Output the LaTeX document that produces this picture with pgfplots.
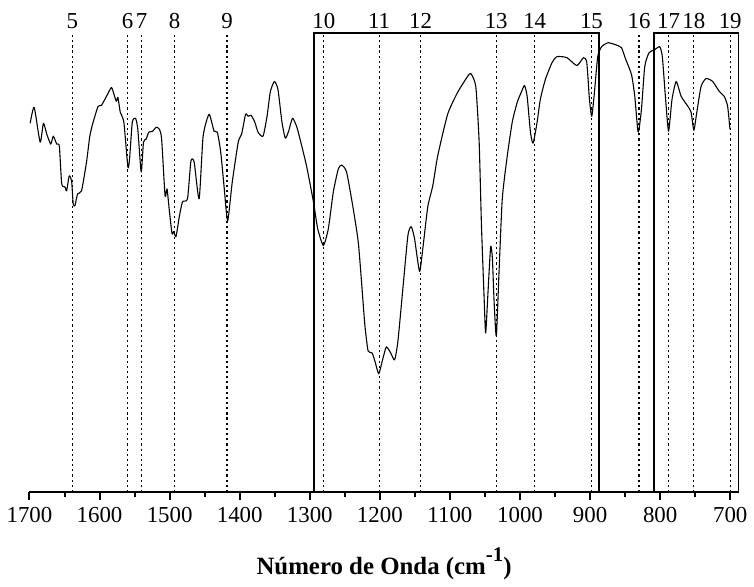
\documentclass[border=0pt]{standalone}
\usepackage{fontspec}
\setmainfont{Liberation Serif}
\usepackage{pgfplots}
\pgfplotsset{compat=1.18}

\pgfplotstableread{
w y
1699 371
1693.3 387
1684.8 352
1680.1 371
1675.3 360
1669.6 350
1666 358
1661.1 350
1657.4 348
1654 310
1649.4 307
1647 303
1643.3 318
1639.9 313
1637.6 290
1635.2 288
1631.3 300
1625.7 303
1618.6 332
1613.9 358
1609.2 372
1602.1 388
1597.3 389
1590.2 398
1583.1 407
1579.4 400
1576 393
1573.8 397
1570.4 382
1565.3 372
1559.6 327
1557.2 335
1553.3 372
1548.7 376
1545.4 365
1540.6 322
1537.3 352
1533.5 355
1529.8 362
1524.1 363
1519.3 367
1514.6 365
1511.4 355
1506.5 298
1503.7 305
1500.4 283
1496.6 260
1494.3 262
1490.9 257
1486.2 277
1481.6 292
1474.5 295
1469.6 333
1465 332
1457.9 295
1452.2 358
1443.7 380
1436.6 363
1431.9 362
1427.1 342
1422.4 308
1417.2 273
1410.6 312
1402.1 352
1397.3 360
1391.6 380
1388 378
1383.7 379
1378.4 372
1373.8 362
1366.7 358
1361 378
1356.2 403
1350.5 413
1345.4 405
1339.7 372
1334.9 356
1330.2 363
1324.6 376
1318.4 367
1311.4 348
1304.3 327
1294.8 292
1288.7 265
1280.6 248
1273.5 265
1266.4 302
1259.3 325
1254.6 329
1247.5 322
1238 285
1230.9 252
1226.2 212
1221.4 168
1216.8 142
1211.1 140
1207.2 132
1201.6 119
1196.5 132
1190.8 146
1184.6 140
1178.9 133
1174.2 152
1167.1 205
1160 258
1155.3 267
1150.5 255
1143.4 222
1138.7 245
1131.6 287
1124.5 308
1117.5 338
1103.3 380
1089.1 402
1074.9 418
1070.2 421
1063.1 408
1058.3 352
1055 268
1051.2 195
1049 160
1045.6 202
1041.9 247
1039.4 235
1037 192
1033.8 157
1029.9 222
1025.3 295
1018.2 338
1011.1 372
1004 392
998.3 402
993.6 409
989.8 398
985.1 362
981.3 351
975.6 372
971 395
963.8 415
954.3 432
947.2 438
933.1 437
918.9 429
909.4 437
904.7 432
900.9 395
897.6 378
893.8 402
889.1 438
883.5 448
873.9 452
859.7 449
855.1 447
849 435
840.9 420
836.2 398
831.4 362
826.7 385
822 428
815.8 442
807.8 445
800.7 448
796.9 438
792.2 395
788 363
783.1 395
777.1 413
770 398
760.4 388
755.8 382
751.9 364
747.7 382
741.6 408
734.5 416
725 413
715.6 403
708.5 398
703.7 388
700.4 365
}\spectrum

\begin{document}
\begin{tikzpicture}
\begin{axis}[
  scale only axis, width=356.7pt, height=231pt,
  x dir=reverse, xmin=688, xmax=1700, ymin=0, ymax=462,
  axis x line*=bottom, axis y line=none,
  x axis line style={-, line width=1pt},
  xtick={700,800,...,1700}, minor x tick num=1,
  tick align=outside, major tick length=4pt, minor tick length=2.6pt,
  every tick/.style={black, line width=1pt},
  ytick=\empty,
  /pgf/number format/assume math mode=true,
  /pgf/number format/1000 sep={},
  tick label style={font=\fontsize{11.5}{12}\selectfont},
  xlabel={\textbf{Número de Onda (cm\raisebox{0.5em}{\fontsize{10.5}{11}\selectfont -1})}},
  xlabel style={font=\fontsize{12.5}{14}\selectfont, yshift=-6pt},
  clip=false,
]
\path (axis cs:1741.6,495) rectangle (axis cs:672.1,-87);
\addplot[black, line width=0.55pt, line join=round, no marks, smooth, tension=0.35] table[x=w, y=y] {\spectrum};
\draw[line width=0.8pt] (axis cs:1294,0) rectangle (axis cs:887,462);
\draw[line width=0.8pt] (axis cs:809,0) rectangle (axis cs:688,462);
\foreach \p/\l in {1639/5,1560/6,1540/7,1493/8,1418/9,1280/10,1201/11,1142/12,1034/13,979/14,898/15,830/16,788/17,752/18,700/19}{
  \edef\tmp{\noexpand\draw[line width=0.65pt, dash pattern=on 1.1pt off 1.5pt] (axis cs:\p,0) -- (axis cs:\p,462);
  \noexpand\node[anchor=base, inner sep=0pt, font=\noexpand\fontsize{11.5}{12}\noexpand\selectfont] at (axis cs:\p,466) {\l};}
  \tmp
}
\end{axis}
\end{tikzpicture}
\end{document}
